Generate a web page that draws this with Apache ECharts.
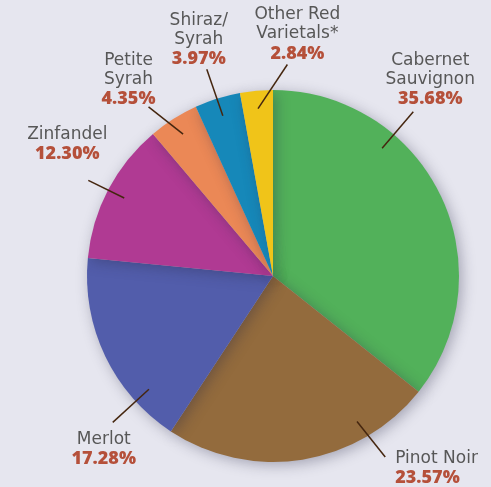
<!DOCTYPE html>
<html><head><meta charset="utf-8">
<script src="https://cdn.jsdelivr.net/npm/echarts@6/dist/echarts.min.js"></script>
<style>html,body{margin:0;padding:0;background:#e6e6ef}#c{width:491px;height:487px}</style>
</head><body><div id="c"></div>
<script>
// ---- data ----
const categories = ['Cabernet\nSauvignon', 'Pinot Noir', 'Merlot', 'Zinfandel', 'Petite\nSyrah', 'Shiraz/\nSyrah', 'Other Red\nVarietals*'];
const values = [35.68, 23.57, 17.28, 12.30, 4.35, 3.97, 2.84];
const colors = ['#52b15a', '#936b3d', '#525dab', '#b03a93', '#eb8856', '#1688b9', '#f0c419'];

// ---- layout / style ----
const CX = 273, CY = 276, R = 186;
const lineAngle = {0: 40.5, 1: 150, 2: 227.6};
const endShift = {1: -1.8, 3: -0.3, 4: -4, 5: -0.4, 6: 9};
const endRadius = [216, 213, 217, 208, 210, 217, 212];
const labelPlace = [
  {dx: 17, dy: -3, align: 'center', va: 'bottom'},
  {dx: 10, dy: -8, align: 'left', va: 'top'},
  {dx: -9, dy: 8, align: 'center', va: 'top'},
  {dx: -21, dy: -16, align: 'center', va: 'bottom'},
  {dx: -20, dy: 2, align: 'center', va: 'bottom'},
  {dx: -8, dy: 0, align: 'center', va: 'bottom'},
  {dx: 10, dy: -1, align: 'center', va: 'bottom'}
];

const total = values.reduce((a, b) => a + b, 0);
const midAngles = [];
let acc = 0;
values.forEach(v => { midAngles.push((acc + v / 2) / total * 360); acc += v; });
function polar(r, deg) {
  const a = deg * Math.PI / 180;
  return [CX + r * Math.sin(a), CY - r * Math.cos(a)];
}
const pieData = categories.map((n, i) => ({name: n, value: values[i]}));

const chart = echarts.init(document.getElementById('c'));
chart.setOption({
  backgroundColor: '#e6e6ef',
  animation: false,
  series: [{
    type: 'pie',
    center: [CX, CY],
    radius: R,
    startAngle: 90,
    clockwise: true,
    silent: true,
    data: pieData.map((d, i) => ({...d, itemStyle: {color: colors[i]}})),
    itemStyle: {
      borderWidth: 0,
      shadowBlur: 14,
      shadowColor: 'rgba(40,40,70,0.35)',
      shadowOffsetX: 3,
      shadowOffsetY: 3
    },
    label: {show: false},
    labelLine: {show: false}
  }, {
    type: 'pie',
    z: 5,
    center: [CX, CY],
    radius: R,
    startAngle: 90,
    clockwise: true,
    silent: true,
    avoidLabelOverlap: false,
    data: pieData,
    itemStyle: {color: 'rgba(0,0,0,0)', borderWidth: 0},
    label: {
      show: true,
      position: 'outside',
      formatter: p => p.name.split('\n').map(s => '{n|' + s + '}').join('\n') + '\n{p|' + p.value.toFixed(2) + '%}',
      rich: {
        n: {fontFamily: 'DejaVu Sans', fontSize: 17, color: '#575757', lineHeight: 19},
        p: {fontFamily: 'Open Sans', fontWeight: 800, fontSize: 18, color: '#b5503a', lineHeight: 20}
      }
    },
    labelLine: {
      show: true,
      length: 20,
      length2: 0,
      lineStyle: {color: '#45260f', width: 1.5}
    },
    labelLayout: function (params) {
      const i = params.dataIndex;
      const th = lineAngle[i] != null ? lineAngle[i] : midAngles[i];
      const s = polar(168, th);
      const e = polar(endRadius[i], th + (endShift[i] || 0));
      const pl = labelPlace[i];
      return {
        x: e[0] + pl.dx,
        y: e[1] + pl.dy,
        align: pl.align,
        verticalAlign: pl.va,
        labelLinePoints: [s, e]
      };
    }
  }]
});
</script>
</body></html>
